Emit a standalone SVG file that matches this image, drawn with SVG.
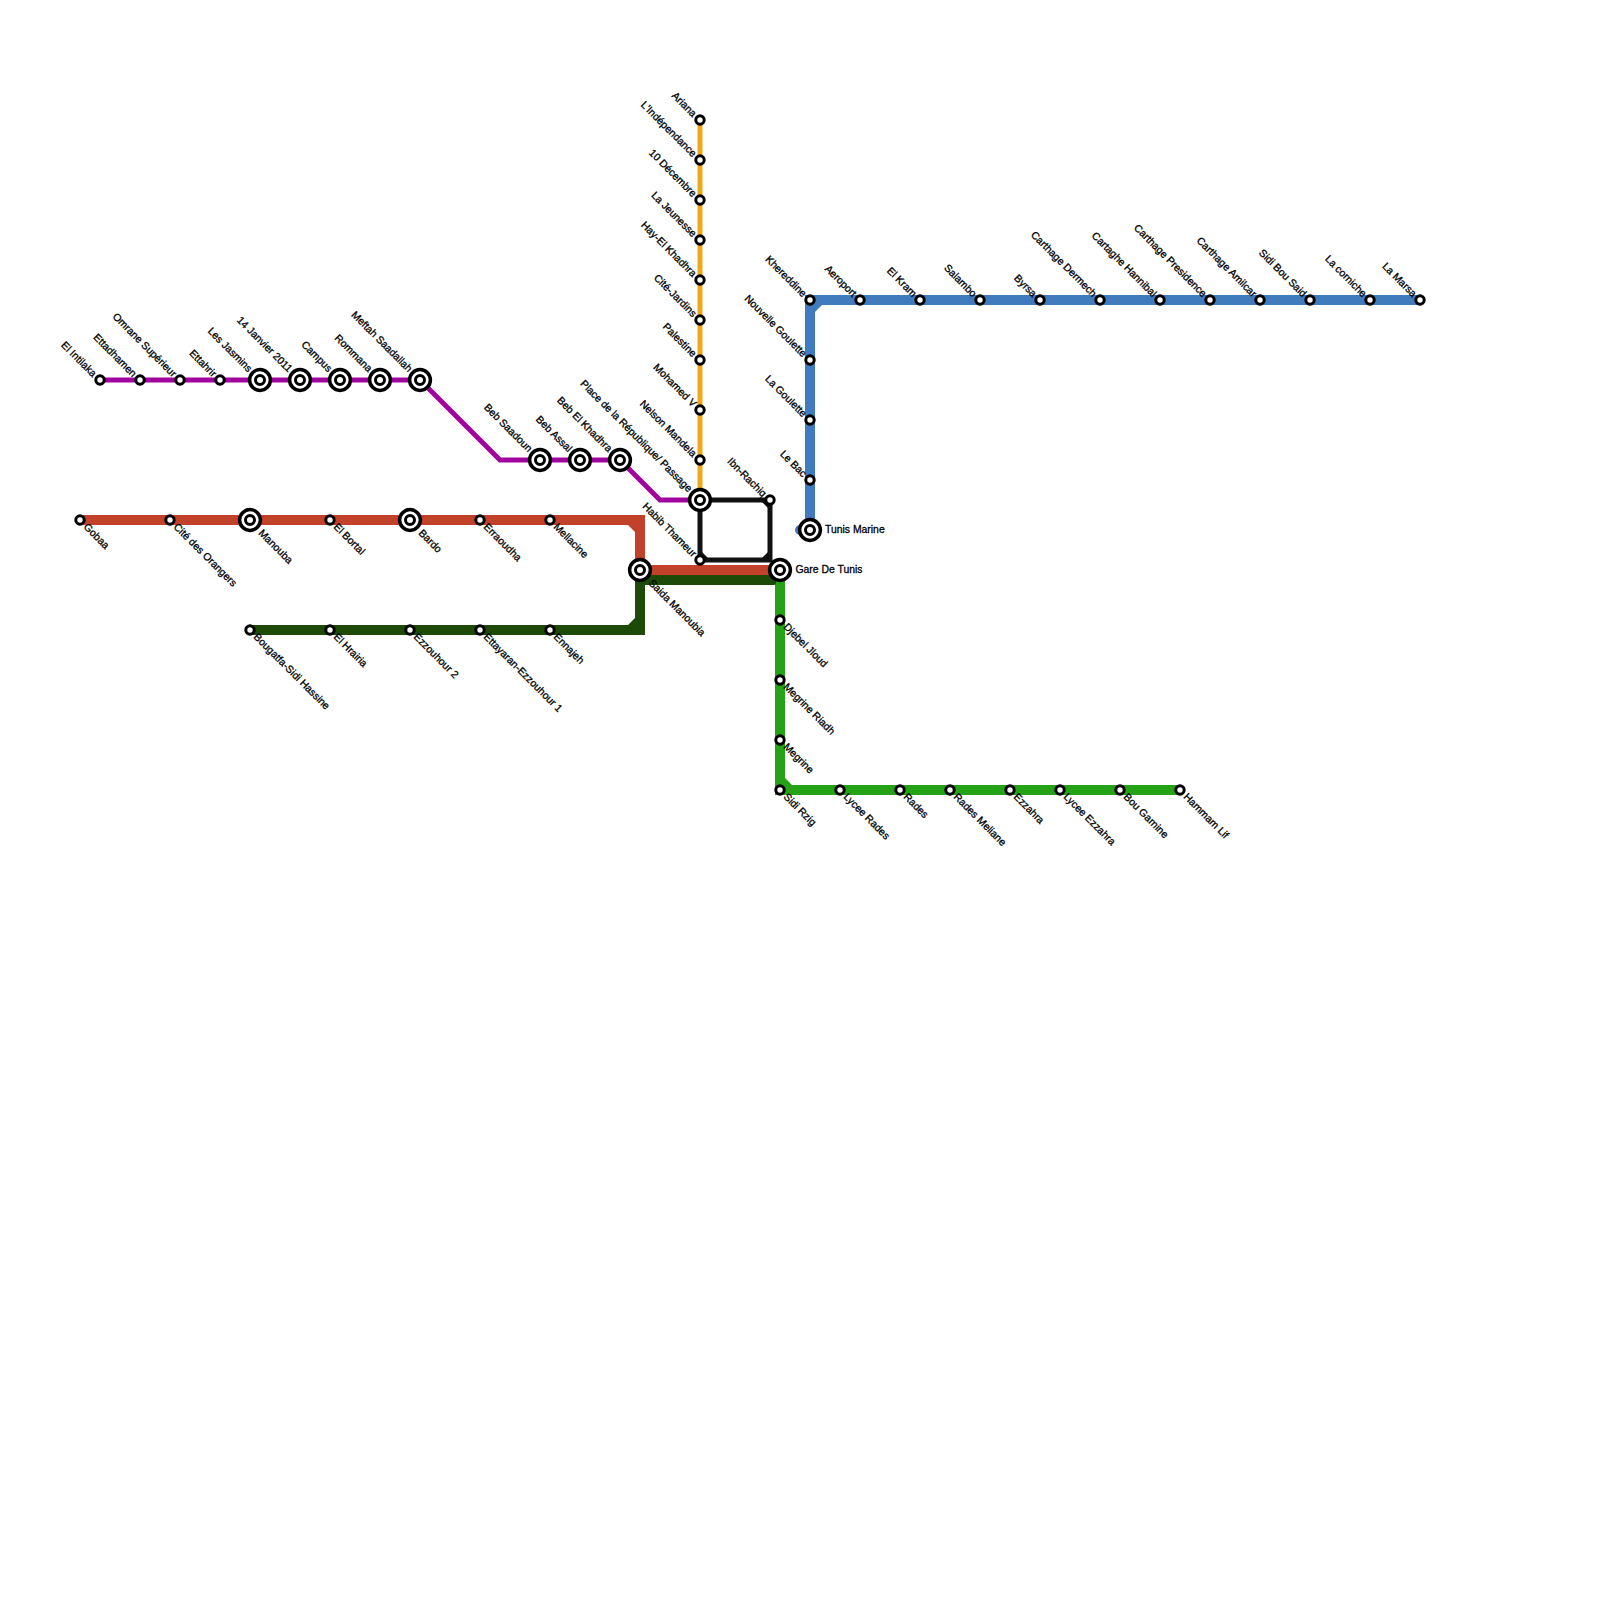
<svg xmlns="http://www.w3.org/2000/svg" width="1600" height="1600" viewBox="0 0 1600 1600">
<defs><style>
.l{fill:none;stroke-linejoin:miter;stroke-linecap:butt}
.o{stroke:#f0a818;stroke-width:5}
.p{stroke:#a0059e;stroke-width:5}
.r{stroke:#c1412a;stroke-width:10}
.d{stroke:#1d4a06;stroke-width:10}
.g{stroke:#25a216;stroke-width:10}
.b{stroke:#3f7bbd;stroke-width:10}
.k{stroke:#111;stroke-width:5}
.a{fill:#fff;stroke:#000;stroke-width:3}
.n{fill:#fff;stroke:#000;stroke-width:3.5}
text{font-family:"Liberation Sans",Arial,sans-serif;font-size:10.4px;font-weight:400;fill:#000;stroke:#000;stroke-width:.3}
.e{text-anchor:end}
</style>
<g id="sm"><circle class="a" r="4.2"/></g>
<g id="ic"><circle class="n" r="10.400"/><circle class="a" r="4.500"/></g>
</defs>
<rect width="1600" height="1600" fill="#fff"/>
<g id="connectors">
<polyline class="l o" points="700,120 700,500"/>
<polyline class="l p" points="100,380 420,380 500,460 620,460 660,500 700,500"/>
<polyline class="l r" points="80,520 640,520 640,570 780,570"/>
<polygon fill="#c1412a" points="628,525 635,525 635,532"/>
<polyline class="l g" points="780,570 780,790 1180,790"/>
<polygon fill="#25a216" points="785,778 785,785 792,785"/>
<polyline class="l d" points="250,630 640,630 640,580 760,580"/>
<rect x="750" y="575" width="26" height="10" rx="2" fill="#1d4a06"/>
<polygon fill="#1d4a06" points="628,625 635,618 635,625"/>
<polygon fill="#1d4a06" points="645,575 652,575 645,582"/>
<polyline class="l b" points="810,530 810,300 1420,300"/>
<polygon fill="#3f7bbd" points="815,305 822,305 815,312"/>
<path class="b" fill="none" stroke-linecap="round" d="M800,530H810"/>
<polygon class="l k" points="700,500 770,500 770,560 700,560"/>
<polygon fill="#111" points="760,500 770,500 770,510"/>
<polygon fill="#111" points="700,550 710,560 700,560"/>
<polygon fill="#111" points="760,560 770,550 770,560"/>
</g>
<g id="n-el-intilaka"><use href="#sm" x="100" y="380"/><text class="e" transform="translate(92.400 377.600) rotate(45)">El Intilaka</text></g>
<g id="n-ettadhamen"><use href="#sm" x="140" y="380"/><text class="e" transform="translate(132.400 377.600) rotate(45)">Ettadhamen</text></g>
<g id="n-omrane"><use href="#sm" x="180" y="380"/><text class="e" transform="translate(172.400 377.600) rotate(45)">Omrane Supérieur</text></g>
<g id="n-ettahrir"><use href="#sm" x="220" y="380"/><text class="e" transform="translate(212.400 377.600) rotate(45)">Ettahrir</text></g>
<g id="n-jasmins"><use href="#ic" x="260" y="380"/><text class="e" transform="translate(248 372.600) rotate(45)">Les Jasmins</text></g>
<g id="n-14janvier"><use href="#ic" x="300" y="380"/><text class="e" transform="translate(288 372.600) rotate(45)">14 Janvier 2011</text></g>
<g id="n-campus"><use href="#ic" x="340" y="380"/><text class="e" transform="translate(328 372.600) rotate(45)">Campus</text></g>
<g id="n-rommana"><use href="#ic" x="380" y="380"/><text class="e" transform="translate(368 372.600) rotate(45)">Rommana</text></g>
<g id="n-meftah"><use href="#ic" x="420" y="380"/><text class="e" transform="translate(408 372.600) rotate(45)">Meftah Saadallah</text></g>
<g id="n-saadoun"><use href="#ic" x="540" y="460"/><text class="e" transform="translate(528 452.600) rotate(45)">Beb Saadoun</text></g>
<g id="n-assal"><use href="#ic" x="580" y="460"/><text class="e" transform="translate(568 452.600) rotate(45)">Beb Assal</text></g>
<g id="n-khadhra"><use href="#ic" x="620" y="460"/><text class="e" transform="translate(608 452.600) rotate(45)">Beb El Khadhra</text></g>
<g id="n-republique"><use href="#ic" x="700" y="500"/><text class="e" transform="translate(688 492.600) rotate(45)">Place de la République/ Passage</text></g>
<g id="n-ariana"><use href="#sm" x="700" y="120"/><text class="e" transform="translate(692.400 117.600) rotate(45)">Ariana</text></g>
<g id="n-independance"><use href="#sm" x="700" y="160"/><text class="e" transform="translate(692.400 157.600) rotate(45)">L'Indépendance</text></g>
<g id="n-10dec"><use href="#sm" x="700" y="200"/><text class="e" transform="translate(692.400 197.600) rotate(45)">10 Décembre</text></g>
<g id="n-jeunesse"><use href="#sm" x="700" y="240"/><text class="e" transform="translate(692.400 237.600) rotate(45)">La Jeunesse</text></g>
<g id="n-hay"><use href="#sm" x="700" y="280"/><text class="e" transform="translate(692.400 277.600) rotate(45)">Hay-El Khadhra</text></g>
<g id="n-cite-jardins"><use href="#sm" x="700" y="320"/><text class="e" transform="translate(692.400 317.600) rotate(45)">Cité-Jardins</text></g>
<g id="n-palestine"><use href="#sm" x="700" y="360"/><text class="e" transform="translate(692.400 357.600) rotate(45)">Palestine</text></g>
<g id="n-mohamed"><use href="#sm" x="700" y="410"/><text class="e" transform="translate(692.400 407.600) rotate(45)">Mohamed V</text></g>
<g id="n-mandela"><use href="#sm" x="700" y="460"/><text class="e" transform="translate(692.400 457.600) rotate(45)">Nelson Mandela</text></g>
<g id="n-ibn"><use href="#sm" x="770" y="500"/><text class="e" transform="translate(762.400 497.600) rotate(45)">Ibn-Rachiq</text></g>
<g id="n-thameur"><use href="#sm" x="700" y="560"/><text class="e" transform="translate(692.400 557.600) rotate(45)">Habib Thameur</text></g>
<g id="n-gobaa"><use href="#sm" x="80" y="520"/><text transform="translate(83 527.500) rotate(45)">Gobaa</text></g>
<g id="n-orangers"><use href="#sm" x="170" y="520"/><text transform="translate(173 527.500) rotate(45)">Cité des Orangers</text></g>
<g id="n-manouba"><use href="#ic" x="250" y="520"/><text transform="translate(258 533.700) rotate(45)">Manouba</text></g>
<g id="n-bortal"><use href="#sm" x="330" y="520"/><text transform="translate(333 527.500) rotate(45)">El Bortal</text></g>
<g id="n-bardo"><use href="#ic" x="410" y="520"/><text transform="translate(418 533.700) rotate(45)">Bardo</text></g>
<g id="n-erraoudha"><use href="#sm" x="480" y="520"/><text transform="translate(483 527.500) rotate(45)">Erraoudha</text></g>
<g id="n-mellacine"><use href="#sm" x="550" y="520"/><text transform="translate(553 527.500) rotate(45)">Mellacine</text></g>
<g id="n-saida"><use href="#ic" x="640" y="570"/><text transform="translate(648 583.700) rotate(45)">Saida Manoubia</text></g>
<g id="n-gare"><use href="#ic" x="780" y="570"/><text x="795.500" y="572.800">Gare De Tunis</text></g>
<g id="n-marine"><use href="#ic" x="810" y="530"/><text x="825" y="532.800">Tunis Marine</text></g>
<g id="n-bougatfa"><use href="#sm" x="250" y="630"/><text transform="translate(253 637.500) rotate(45)">Bougatfa-Sidi Hassine</text></g>
<g id="n-hrairia"><use href="#sm" x="330" y="630"/><text transform="translate(333 637.500) rotate(45)">El Hrairia</text></g>
<g id="n-ezzouhour2"><use href="#sm" x="410" y="630"/><text transform="translate(413 637.500) rotate(45)">Ezzouhour 2</text></g>
<g id="n-ettayaran"><use href="#sm" x="480" y="630"/><text transform="translate(483 637.500) rotate(45)">Ettayaran-Ezzouhour 1</text></g>
<g id="n-ennajeh"><use href="#sm" x="550" y="630"/><text transform="translate(553 637.500) rotate(45)">Ennajeh</text></g>
<g id="n-djebel"><use href="#sm" x="780" y="620"/><text transform="translate(783 627.500) rotate(45)">Djebel Jloud</text></g>
<g id="n-riadh"><use href="#sm" x="780" y="680"/><text transform="translate(783 687.500) rotate(45)">Megrine Riadh</text></g>
<g id="n-megrine"><use href="#sm" x="780" y="740"/><text transform="translate(783 747.500) rotate(45)">Megrine</text></g>
<g id="n-rzig"><use href="#sm" x="780" y="790"/><text transform="translate(783 797.500) rotate(45)">Sidi Rzig</text></g>
<g id="n-lycee-rades"><use href="#sm" x="840" y="790"/><text transform="translate(843 797.500) rotate(45)">Lycee Rades</text></g>
<g id="n-rades"><use href="#sm" x="900" y="790"/><text transform="translate(903 797.500) rotate(45)">Rades</text></g>
<g id="n-meliane"><use href="#sm" x="950" y="790"/><text transform="translate(953 797.500) rotate(45)">Rades Meliane</text></g>
<g id="n-ezzahra"><use href="#sm" x="1010" y="790"/><text transform="translate(1013 797.500) rotate(45)">Ezzahra</text></g>
<g id="n-lycee-ezzahra"><use href="#sm" x="1060" y="790"/><text transform="translate(1063 797.500) rotate(45)">Lycee Ezzahra</text></g>
<g id="n-garnine"><use href="#sm" x="1120" y="790"/><text transform="translate(1123 797.500) rotate(45)">Bou Garnine</text></g>
<g id="n-hammam"><use href="#sm" x="1180" y="790"/><text transform="translate(1183 797.500) rotate(45)">Hammam Lif</text></g>
<g id="n-kheredine"><use href="#sm" x="810" y="300"/><text class="e" transform="translate(802.400 297.600) rotate(45)">Khereddine</text></g>
<g id="n-nouvelle"><use href="#sm" x="810" y="360"/><text class="e" transform="translate(802.400 357.600) rotate(45)">Nouvelle Goulette</text></g>
<g id="n-goulette"><use href="#sm" x="810" y="420"/><text class="e" transform="translate(802.400 417.600) rotate(45)">La Goulette</text></g>
<g id="n-bac"><use href="#sm" x="810" y="480"/><text class="e" transform="translate(802.400 477.600) rotate(45)">Le Bac</text></g>
<g id="n-aeroport"><use href="#sm" x="860" y="300"/><text class="e" transform="translate(852.400 297.600) rotate(45)">Aeroport</text></g>
<g id="n-kram"><use href="#sm" x="920" y="300"/><text class="e" transform="translate(912.400 297.600) rotate(45)">El Kram</text></g>
<g id="n-salambo"><use href="#sm" x="980" y="300"/><text class="e" transform="translate(972.400 297.600) rotate(45)">Salambo</text></g>
<g id="n-byrsa"><use href="#sm" x="1040" y="300"/><text class="e" transform="translate(1032.400 297.600) rotate(45)">Byrsa</text></g>
<g id="n-dermech"><use href="#sm" x="1100" y="300"/><text class="e" transform="translate(1092.400 297.600) rotate(45)">Carthage Dermech</text></g>
<g id="n-hannibal"><use href="#sm" x="1160" y="300"/><text class="e" transform="translate(1152.400 297.600) rotate(45)">Cartaghe Hannibal</text></g>
<g id="n-presidence"><use href="#sm" x="1210" y="300"/><text class="e" transform="translate(1202.400 297.600) rotate(45)">Carthage Presidence</text></g>
<g id="n-amilcar"><use href="#sm" x="1260" y="300"/><text class="e" transform="translate(1252.400 297.600) rotate(45)">Carthage Amilcar</text></g>
<g id="n-sidi-bou"><use href="#sm" x="1310" y="300"/><text class="e" transform="translate(1302.400 297.600) rotate(45)">Sidi Bou Said</text></g>
<g id="n-corniche"><use href="#sm" x="1370" y="300"/><text class="e" transform="translate(1362.400 297.600) rotate(45)">La corniche</text></g>
<g id="n-marsa"><use href="#sm" x="1420" y="300"/><text class="e" transform="translate(1412.400 297.600) rotate(45)">La Marsa</text></g>
</svg>
